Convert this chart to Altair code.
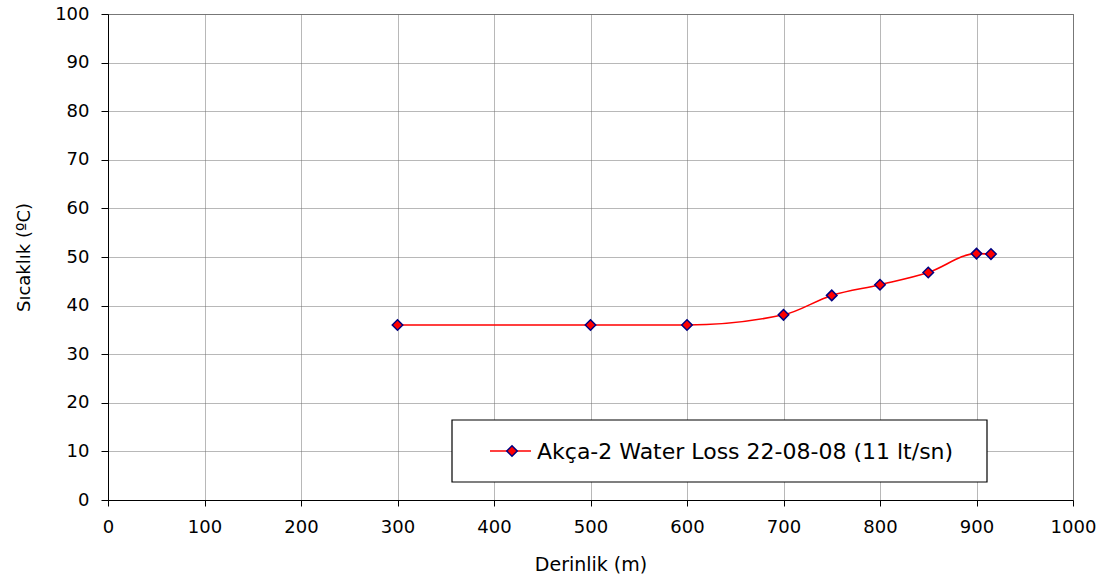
import altair as alt
import pandas as pd

# Depth (m) and temperature (°C) readings
derinlik = [300, 500, 600, 700, 750, 800, 850, 900, 915]
sicaklik = [36.0, 36.0, 36.0, 38.1, 42.1, 44.3, 46.8, 50.7, 50.6]
seri_adi = "Akça-2 Water Loss 22-08-08 (11 lt/sn)"

x_ticks = list(range(0, 1001, 100))
y_ticks = list(range(0, 101, 10))

df = pd.DataFrame({"Derinlik": derinlik, "Sicaklik": sicaklik})

W, H = 965, 486
FONT = "DejaVu Sans"

x_enc = alt.X(
    "Derinlik:Q",
    scale=alt.Scale(domain=[0, 1000], nice=False),
    axis=alt.Axis(
        values=x_ticks, format="d", title="Derinlik (m)", titleFontSize=19,
        titleFont=FONT, titleFontWeight="normal", titleColor="black", titlePadding=19,
        labelFontSize=18, labelFont=FONT, labelColor="black", labelPadding=12,
        tickSize=6, tickColor="black", domainColor="black", labelFlush=False,
        grid=True, gridColor="#707070", gridDash=[1, 1], gridWidth=1,
    ),
)
y_enc = alt.Y(
    "Sicaklik:Q",
    scale=alt.Scale(domain=[0, 100], nice=False),
    axis=alt.Axis(
        values=y_ticks, format="d", title="Sıcaklık (ºC)", titleFontSize=18,
        titleFont=FONT, titleFontWeight="normal", titleColor="black", titlePadding=21,
        labelFontSize=18, labelFont=FONT, labelColor="black", labelPadding=12,
        tickSize=7, tickColor="black", domainColor="black",
        grid=True, gridColor="#707070", gridDash=[1, 1], gridWidth=1,
    ),
)

line = alt.Chart(df).mark_line(
    color="#ff0000", strokeWidth=1.6, interpolate="monotone"
).encode(x=x_enc, y=y_enc)

points = alt.Chart(df).mark_point(
    shape="diamond", filled=True, fill="#ff0000", stroke="#000080",
    strokeWidth=1.5, size=110, opacity=1,
).encode(x="Derinlik:Q", y="Sicaklik:Q")

# Legend box drawn inside the plot area
leg_df = pd.DataFrame({"ad": [seri_adi]})
leg_box = alt.Chart(leg_df).mark_rect(
    fill="white", stroke="black", strokeWidth=1.2
).encode(x=alt.value(344), x2=alt.value(879), y=alt.value(406), y2=alt.value(468))
leg_line = alt.Chart(leg_df).mark_rule(color="#ff0000", strokeWidth=1.6).encode(
    x=alt.value(382), x2=alt.value(423), y=alt.value(437)
)
leg_pt = alt.Chart(leg_df).mark_point(
    shape="diamond", filled=True, fill="#ff0000", stroke="#000080",
    strokeWidth=1.5, size=110, opacity=1,
).encode(x=alt.value(404), y=alt.value(437))
leg_txt = alt.Chart(leg_df).mark_text(
    align="left", baseline="middle", fontSize=22, font=FONT, color="black",
).encode(x=alt.value(429), y=alt.value(438), text="ad:N")

chart = (
    alt.layer(line, points, leg_box, leg_line, leg_pt, leg_txt)
    .properties(
        width=W, height=H,
        autosize=alt.AutoSizeParams(type="none"),
        padding={"left": 108, "top": 14, "right": 41, "bottom": 80},
        background="white",
    )
    .configure_view(stroke="#7f7f7f", strokeWidth=1)
)

chart.save("out.html", embed_options={"renderer": "svg", "actions": False})
